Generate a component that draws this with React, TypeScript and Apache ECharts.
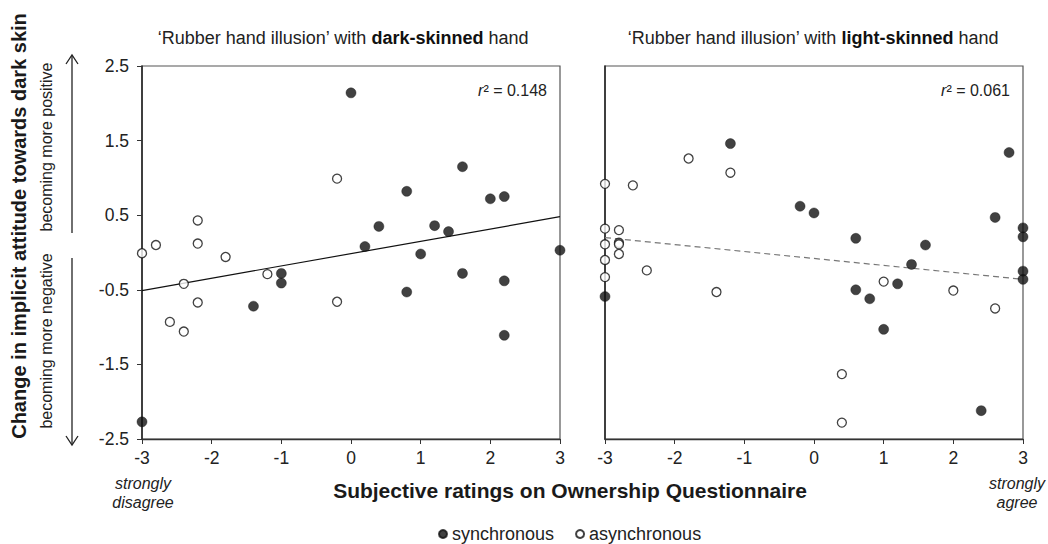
import React, { useEffect, useRef } from "react";
import * as echarts from "echarts";

// ---- Data ----
// Left panel: rubber hand illusion with dark-skinned hand
const darkSyncX = [0.0, 1.6, 0.8, 2.0, 2.2, 0.4, 1.2, 1.4, 0.2, 3.0, -1.0, -1.0, -1.4, 1.0, 1.6, 2.2, 0.8, 2.2, -3.0];
const darkSyncY = [2.14, 1.15, 0.82, 0.72, 0.75, 0.35, 0.36, 0.28, 0.08, 0.03, -0.28, -0.41, -0.72, -0.02, -0.28, -0.38, -0.53, -1.11, -2.27];
const darkAsyncX = [-0.2, -2.2, -2.2, -2.8, -3.0, -1.8, -2.4, -2.2, -2.6, -2.4, -1.2, -0.2];
const darkAsyncY = [0.99, 0.43, 0.12, 0.1, -0.01, -0.06, -0.42, -0.67, -0.93, -1.06, -0.29, -0.66];
const darkFitX = [-3, 3];
const darkFitY = [-0.51, 0.48];
const darkR2 = "0.148";

// Right panel: rubber hand illusion with light-skinned hand
const lightSyncX = [-1.2, 2.8, -0.2, 0.0, 2.6, 3.0, 3.0, 0.6, 1.6, 1.4, 3.0, 3.0, 1.2, 0.6, 0.8, 1.0, 2.4, -3.0];
const lightSyncY = [1.46, 1.34, 0.62, 0.53, 0.47, 0.33, 0.21, 0.19, 0.1, -0.16, -0.25, -0.36, -0.42, -0.5, -0.62, -1.03, -2.12, -0.59];
const lightAsyncX = [-1.8, -1.2, -3.0, -2.6, -3.0, -2.8, -3.0, -2.8, -2.8, -2.8, -3.0, -3.0, -2.4, -1.4, 1.0, 2.0, 2.6, 0.4, 0.4];
const lightAsyncY = [1.26, 1.07, 0.92, 0.9, 0.32, 0.3, 0.11, 0.13, 0.11, -0.02, -0.1, -0.33, -0.24, -0.53, -0.39, -0.51, -0.75, -1.63, -2.28];
const lightFitX = [-3, 3];
const lightFitY = [0.2, -0.36];
const lightR2 = "0.061";

const xTicks = { min: -3, max: 3, interval: 1 };
const yTicks = { min: -2.5, max: 2.5, interval: 1 };

const seriesNames = ["synchronous", "asynchronous"];

const zip = (xs: number[], ys: number[]) => xs.map((x, i) => [x, ys[i]]);

const FONT = "'Liberation Sans', Arial, sans-serif";
const INK = "#222";

export default function App() {
  const ref = useRef<HTMLDivElement>(null);

  useEffect(() => {
    if (!ref.current) return;
    const chart = echarts.init(ref.current, undefined, { renderer: "svg" });

    const grids = [
      { left: 142, top: 66, width: 418, height: 373 },
      { left: 605, top: 66, width: 418, height: 373 },
    ];

    const xAxisBase = (gi: number) => ({
      type: "value",
      gridIndex: gi,
      min: xTicks.min,
      max: xTicks.max,
      interval: xTicks.interval,
      axisLine: { show: true, onZero: false, lineStyle: { color: "#333", width: 1.3 } },
      axisTick: { show: true, inside: false, length: 5, lineStyle: { color: "#333", width: 1 } },
      axisLabel: { show: true, fontSize: 17.5, color: INK, fontFamily: FONT, margin: 10 },
      splitLine: { show: false },
    });

    const syncStyle = { color: "#111", borderColor: "#111", borderWidth: 0.5 };
    const asyncStyle = { color: "#fff", borderColor: "#111", borderWidth: 1.3 };

    const option: any = {
      animation: false,
      backgroundColor: "#fff",
      textStyle: { fontFamily: FONT },
      grid: grids.map((g) => ({ ...g, show: true, borderColor: "#555", borderWidth: 1.2, backgroundColor: "transparent" })),
      xAxis: [xAxisBase(0), xAxisBase(1)],
      yAxis: [
        {
          type: "value",
          gridIndex: 0,
          min: yTicks.min,
          max: yTicks.max,
          interval: yTicks.interval,
          axisLine: { show: true, onZero: false, lineStyle: { color: "#222", width: 1.5 } },
          axisTick: { show: true, inside: false, length: 5, lineStyle: { color: "#333", width: 1 } },
          axisLabel: { show: true, fontSize: 17.5, color: INK, fontFamily: FONT, margin: 13 },
          splitLine: { show: false },
        },
        {
          type: "value",
          gridIndex: 1,
          min: yTicks.min,
          max: yTicks.max,
          interval: yTicks.interval,
          axisLine: { show: true, onZero: false, lineStyle: { color: "#222", width: 1.5 } },
          axisTick: { show: false },
          axisLabel: { show: false },
          splitLine: { show: false },
        },
      ],
      legend: {
        data: [
          { name: seriesNames[0], icon: "circle" },
          { name: seriesNames[1], icon: "circle" },
        ],
        left: 438,
        top: 525,
        padding: 0,
        itemWidth: 8,
        itemHeight: 8,
        itemGap: 21,
        textStyle: { fontSize: 18, lineHeight: 18, color: INK, fontFamily: FONT },
        selectedMode: false,
      },
      series: [
        {
          type: "line",
          name: "fitDark",
          xAxisIndex: 0,
          yAxisIndex: 0,
          data: zip(darkFitX, darkFitY),
          showSymbol: false,
          symbol: "none",
          lineStyle: { color: "#111", width: 1.2 },
          z: 1,
          silent: true,
        },
        {
          type: "line",
          name: "fitLight",
          xAxisIndex: 1,
          yAxisIndex: 1,
          data: zip(lightFitX, lightFitY),
          showSymbol: false,
          symbol: "none",
          lineStyle: { color: "#777", width: 1.2, type: [6, 4] },
          z: 1,
          silent: true,
        },
        {
          type: "scatter",
          name: seriesNames[1],
          xAxisIndex: 0,
          yAxisIndex: 0,
          data: zip(darkAsyncX, darkAsyncY),
          symbol: "circle",
          symbolSize: 9,
          itemStyle: asyncStyle,
          clip: false,
          z: 3,
        },
        {
          type: "scatter",
          name: seriesNames[0],
          xAxisIndex: 0,
          yAxisIndex: 0,
          data: zip(darkSyncX, darkSyncY),
          symbol: "circle",
          symbolSize: 10,
          itemStyle: syncStyle,
          clip: false,
          z: 4,
        },
        {
          type: "scatter",
          name: seriesNames[1],
          xAxisIndex: 1,
          yAxisIndex: 1,
          data: zip(lightAsyncX, lightAsyncY),
          symbol: "circle",
          symbolSize: 9,
          itemStyle: asyncStyle,
          clip: false,
          z: 3,
        },
        {
          type: "scatter",
          name: seriesNames[0],
          xAxisIndex: 1,
          yAxisIndex: 1,
          data: zip(lightSyncX, lightSyncY),
          symbol: "circle",
          symbolSize: 10,
          itemStyle: syncStyle,
          clip: false,
          z: 4,
        },
      ],
      graphic: [
        // panel titles
        {
          type: "text",
          x: 343,
          y: 38,
          style: {
            text: "{n|‘Rubber hand illusion’ with }{b|dark-skinned}{n| hand}",
            align: "center",
            verticalAlign: "middle",
            rich: {
              n: { fontSize: 18, fontFamily: FONT, fill: INK },
              b: { fontSize: 18, fontFamily: FONT, fontWeight: "bold", fill: "#111" },
            },
          },
        },
        {
          type: "text",
          x: 813,
          y: 38,
          style: {
            text: "{n|‘Rubber hand illusion’ with }{b|light-skinned}{n| hand}",
            align: "center",
            verticalAlign: "middle",
            rich: {
              n: { fontSize: 18, fontFamily: FONT, fill: INK },
              b: { fontSize: 18, fontFamily: FONT, fontWeight: "bold", fill: "#111" },
            },
          },
        },
        // r² annotations
        {
          type: "text",
          x: 547,
          y: 90,
          style: {
            text: `{i|r}{n|² = ${darkR2}}`,
            align: "right",
            verticalAlign: "middle",
            rich: {
              i: { fontSize: 16, fontFamily: FONT, fontStyle: "italic", fill: INK },
              n: { fontSize: 16, fontFamily: FONT, fill: INK },
            },
          },
        },
        {
          type: "text",
          x: 1010,
          y: 90,
          style: {
            text: `{i|r}{n|² = ${lightR2}}`,
            align: "right",
            verticalAlign: "middle",
            rich: {
              i: { fontSize: 16, fontFamily: FONT, fontStyle: "italic", fill: INK },
              n: { fontSize: 16, fontFamily: FONT, fill: INK },
            },
          },
        },
        // y-axis title
        {
          type: "text",
          x: 19,
          y: 226,
          rotation: Math.PI / 2,
          style: {
            text: "Change in implicit attitude towards dark skin",
            align: "center",
            verticalAlign: "middle",
            fontSize: 20,
            fontWeight: "bold",
            fontFamily: FONT,
            fill: "#1a1a1a",
          },
        },
        {
          type: "text",
          x: 46,
          y: 147,
          rotation: Math.PI / 2,
          style: {
            text: "becoming more positive",
            align: "center",
            verticalAlign: "middle",
            fontSize: 16,
            fontFamily: FONT,
            fill: INK,
          },
        },
        {
          type: "text",
          x: 46,
          y: 341,
          rotation: Math.PI / 2,
          style: {
            text: "becoming more negative",
            align: "center",
            verticalAlign: "middle",
            fontSize: 16,
            fontFamily: FONT,
            fill: INK,
          },
        },
        // arrows
        { type: "line", shape: { x1: 72, y1: 233, x2: 72, y2: 56 }, style: { stroke: "#222", lineWidth: 1.3 } },
        { type: "polyline", shape: { points: [[66, 64], [72, 55], [78, 64]] }, style: { stroke: "#222", lineWidth: 1.3, fill: "none" } },
        { type: "line", shape: { x1: 72, y1: 258, x2: 72, y2: 444 }, style: { stroke: "#222", lineWidth: 1.3 } },
        { type: "polyline", shape: { points: [[66, 436], [72, 445], [78, 436]] }, style: { stroke: "#222", lineWidth: 1.3, fill: "none" } },
        // x-axis title and end notes
        {
          type: "text",
          x: 570,
          y: 490,
          style: {
            text: "Subjective ratings on Ownership Questionnaire",
            align: "center",
            verticalAlign: "middle",
            fontSize: 21,
            fontWeight: "bold",
            fontFamily: FONT,
            fill: "#1a1a1a",
          },
        },
        {
          type: "text",
          x: 143,
          y: 493,
          style: {
            text: "strongly\ndisagree",
            align: "center",
            verticalAlign: "middle",
            fontSize: 16,
            lineHeight: 19,
            fontStyle: "italic",
            fontFamily: FONT,
            fill: INK,
          },
        },
        {
          type: "text",
          x: 1017,
          y: 493,
          style: {
            text: "strongly\nagree",
            align: "center",
            verticalAlign: "middle",
            fontSize: 16,
            lineHeight: 19,
            fontStyle: "italic",
            fontFamily: FONT,
            fill: INK,
          },
        },
      ],
    };

    chart.setOption(option);
    return () => chart.dispose();
  }, []);

  return (
    <div
      ref={ref}
      style={{ position: "fixed", left: 0, top: 0, width: 1048, height: 544, background: "#fff" }}
    />
  );
}
